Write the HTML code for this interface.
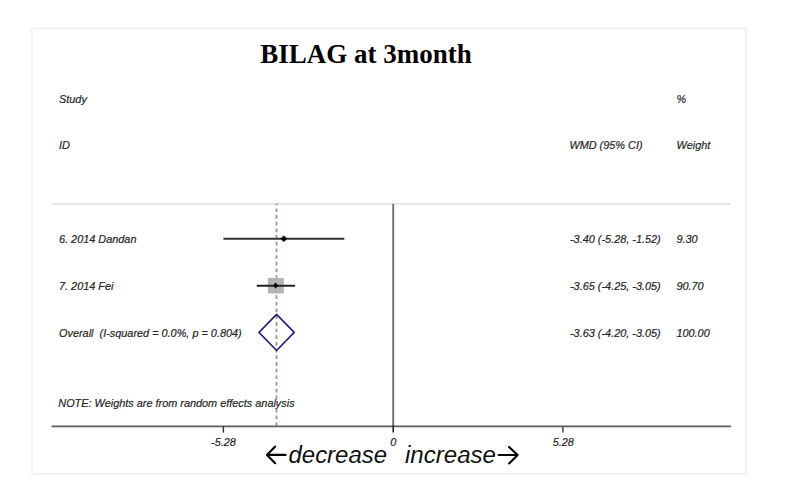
<!DOCTYPE html>
<html><head><meta charset="utf-8">
<style>
html,body{margin:0;padding:0;background:#fff;}
body{width:785px;height:503px;overflow:hidden;position:relative;}
svg{position:absolute;left:0;top:0;}
.t{font-family:"Liberation Sans",sans-serif;font-style:italic;font-size:10.9px;fill:#262626;stroke:#262626;stroke-width:0.2px;transform-box:fill-box;transform-origin:0 81%;transform:scaleY(1.08);}
.ttl{font-family:"Liberation Serif",serif;font-weight:bold;font-size:27px;fill:#000;transform-box:fill-box;transform-origin:0 89%;transform:scaleY(1.035);}
.big{font-family:"Liberation Sans",sans-serif;font-style:italic;font-size:24.5px;fill:#111;}
</style></head>
<body>
<svg width="785" height="503" viewBox="0 0 785 503">
<rect x="31.9" y="28.4" width="714" height="445.5" fill="#fff" stroke="#edf2f3" stroke-width="2"/>
<text class="ttl" x="260.3" y="62.7">BILAG at 3month</text>
<text class="t" x="59" y="102.8">Study</text>
<text class="t" x="59" y="149.3">ID</text>
<text class="t" x="676.6" y="102.9">%</text>
<text class="t" x="569.4" y="149.3">WMD (95% CI)</text>
<text class="t" x="676.6" y="149.2">Weight</text>
<line x1="52" y1="203.9" x2="731" y2="203.9" stroke="#e3e3e3" stroke-width="1.8"/>
<text class="t" x="59" y="242.8">6. 2014 Dandan</text>
<text class="t" x="59" y="289.7">7. 2014 Fei</text>
<text class="t" x="59" y="337" xml:space="preserve">Overall  (I-squared = 0.0%, p = 0.804)</text>
<text class="t" x="570" y="242.9">-3.40 (-5.28, -1.52)</text>
<text class="t" x="676.4" y="242.9">9.30</text>
<text class="t" x="570" y="289.8">-3.65 (-4.25, -3.05)</text>
<text class="t" x="676.4" y="289.8">90.70</text>
<text class="t" x="570" y="336.8">-3.63 (-4.20, -3.05)</text>
<text class="t" x="676.4" y="336.8">100.00</text>
<text class="t" x="58.3" y="406.6">NOTE: Weights are from random effects analysis</text>
<!-- red dashed -->
<line x1="276.5" y1="208.4" x2="276.5" y2="426" stroke="#bf7f88" stroke-width="1.7" stroke-dasharray="3.7 2.98"/>
<rect x="275.5" y="203.5" width="2" height="1.8" fill="#c98a92"/>
<!-- null line -->
<line x1="393.2" y1="203.9" x2="393.2" y2="426.3" stroke="#747474" stroke-width="2"/>
<!-- boxes -->
<rect x="280.8" y="235.4" width="6.2" height="6.4" fill="#e4e4e4"/>
<rect x="267.8" y="278" width="16" height="15.5" fill="#b4b4b4"/>
<!-- CI lines -->
<line x1="223.4" y1="238.7" x2="344.3" y2="238.7" stroke="#333" stroke-width="1.9"/>
<line x1="256.7" y1="285.7" x2="295.1" y2="285.7" stroke="#222" stroke-width="2.1"/>
<!-- point markers -->
<path d="M283.8 235.4 L286.9 238.7 L283.8 242 L280.7 238.7Z" fill="#000"/>
<path d="M275.6 282.6 L278.2 285.6 L275.6 288.6 L273 285.6Z" fill="#000"/>
<!-- overall diamond -->
<path d="M276.6 314.4 L294.2 332.3 L276.6 350.5 L259 332.3Z" fill="none" stroke="#25257c" stroke-width="1.7" stroke-linejoin="round"/>
<!-- axis -->
<line x1="51.6" y1="426.3" x2="731" y2="426.3" stroke="#5e5e5e" stroke-width="1.8"/>
<line x1="393.2" y1="425.5" x2="393.2" y2="432.6" stroke="#222" stroke-width="1.6"/>
<line x1="223.4" y1="426" x2="223.4" y2="432.7" stroke="#333" stroke-width="1.4"/>
<line x1="562.9" y1="426" x2="562.9" y2="432.6" stroke="#5a5a5a" stroke-width="1.7"/>
<text class="t" x="211.1" y="446.2">-5.28</text>
<text class="t" x="390.3" y="445.8">0</text>
<text class="t" x="552.7" y="446.2">5.28</text>
<text class="big" x="288.5" y="462.9" textLength="98.5" lengthAdjust="spacingAndGlyphs">decrease</text>
<text class="big" x="405" y="462.9" textLength="91" lengthAdjust="spacingAndGlyphs">increase</text>
<path d="M275.2 446.6 L266.9 454.9 L275.2 463.2 M267 454.9 L285.6 454.9" fill="none" stroke="#000" stroke-width="2.1" stroke-linecap="round" stroke-linejoin="round"/>
<path d="M509.1 446.9 L517.6 455 L509.1 463.4 M517.5 455 L498.6 455" fill="none" stroke="#000" stroke-width="2.1" stroke-linecap="round" stroke-linejoin="round"/>
</svg>
</body></html>
